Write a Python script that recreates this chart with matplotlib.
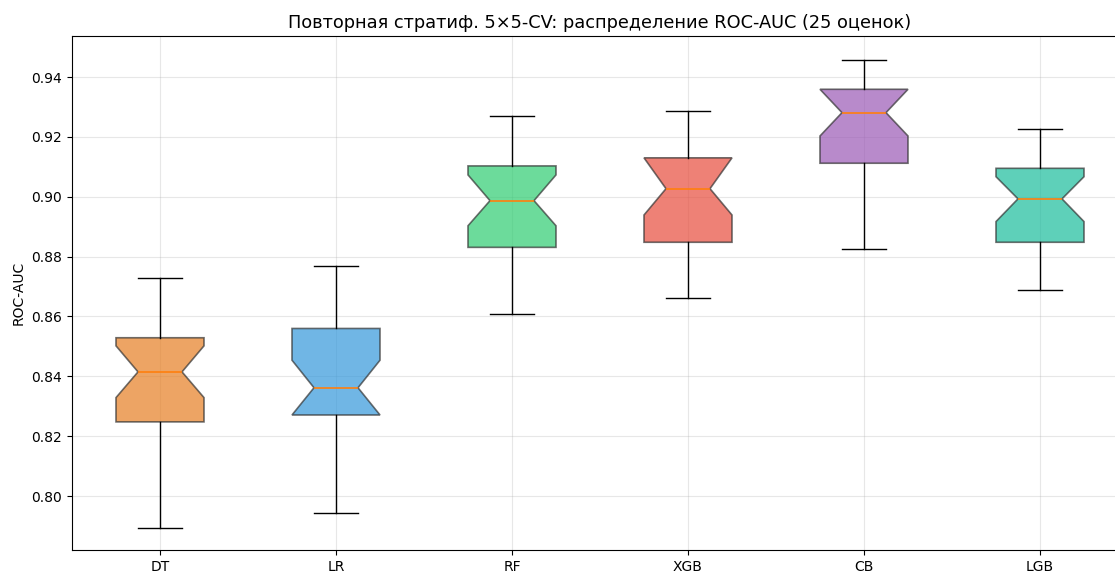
import matplotlib.pyplot as plt

models = ['DT', 'LR', 'RF', 'XGB', 'CB', 'LGB']
whislo = [0.7894, 0.7944, 0.8610, 0.8663, 0.8824, 0.8688]
q1 = [0.8248, 0.8271, 0.8831, 0.8848, 0.9112, 0.8848]
cilo = [0.8329, 0.8271, 0.8903, 0.8939, 0.9203, 0.8917]
med = [0.8415, 0.8362, 0.8987, 0.9027, 0.9281, 0.8993]
cihi = [0.8502, 0.8454, 0.9073, 0.9130, 0.9359, 0.9067]
q3 = [0.8529, 0.8560, 0.9103, 0.9130, 0.9359, 0.9095]
whishi = [0.8728, 0.8770, 0.9270, 0.9286, 0.9457, 0.9226]
colors = ['#e67e22', '#3498db', '#2ecc71', '#e74c3c', '#9b59b6', '#1abc9c']

stats = []
for i, m in enumerate(models):
    stats.append(dict(label=m, whislo=whislo[i], q1=q1[i], med=med[i], q3=q3[i],
                      whishi=whishi[i], cilo=cilo[i], cihi=cihi[i], fliers=[]))

fig = plt.figure(figsize=(11.15, 5.74), dpi=100)
ax = fig.add_axes([72 / 1115, 24 / 574, 1056 / 1115, 514 / 574])

bp = ax.bxp(stats, positions=range(1, 7), widths=0.5, shownotches=True,
            patch_artist=True, showfliers=False)
for patch, c in zip(bp['boxes'], colors):
    patch.set_facecolor(c)
    patch.set_alpha(0.7)
    patch.set_edgecolor('#333333')
    patch.set_linewidth(1.2)
for line in bp['medians']:
    line.set_color('#ff7f0e')
    line.set_linewidth(1.2)

ax.set_xlim(0.5, 6.5)
ax.set_ylim(0.782, 0.9537)
ax.set_ylabel('ROC-AUC')
ax.set_title('Повторная стратиф. 5×5-CV: распределение ROC-AUC (25 оценок)', fontsize=12.75)
ax.grid(True, alpha=0.3)
ax.set_axisbelow(True)

fig.savefig('out.png', dpi=100)
